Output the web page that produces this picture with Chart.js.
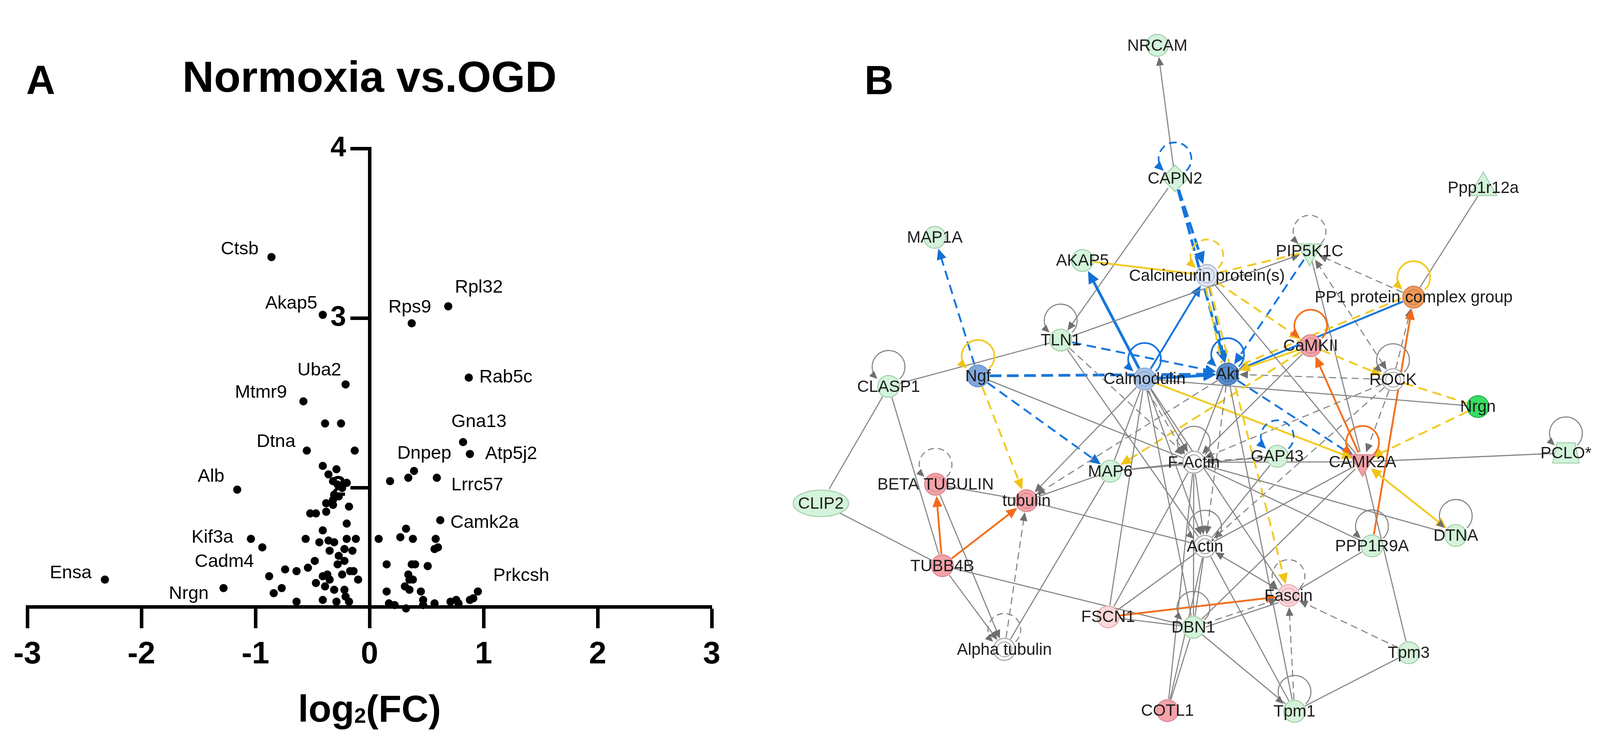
<!DOCTYPE html>
<html>
<head>
<meta charset="utf-8">
<script src="https://cdn.jsdelivr.net/npm/chart.js@4.4.1/dist/chart.umd.min.js"></script>
<style>
  html, body { margin: 0; padding: 0; background: #fff; }
  body { width: 4135px; height: 1935px; position: relative; overflow: hidden; }
  canvas { position: absolute; top: 0; }
  #volcano { left: 0; }
  #network { left: 1880px; }
</style>
</head>
<body>
<canvas id="volcano" width="1880" height="1935"></canvas>
<canvas id="network" width="2255" height="1935"></canvas>
<script>
// ---------- Panel A: volcano plot ----------
const xTicks = [-3, -2, -1, 0, 1, 2, 3];
const yTicks = [2, 3, 4];

const geneNames = ["Ctsb", "Akap5", "Rps9", "Rpl32", "Uba2", "Mtmr9", "Dtna", "Alb", "Kif3a", "Cadm4",
  "Ensa", "Nrgn", "Rab5c", "Gna13", "Atp5j2", "Dnpep", "Lrrc57", "Camk2a", "Prkcsh"];
const geneFC = [-0.86, -0.41, 0.37, 0.69, -0.21, -0.58, -0.55, -1.16, -1.04, -0.88,
  -2.32, -1.28, 0.87, 0.82, 0.88, 0.39, 0.59, 0.62, 0.95];
const geneLogP = [3.36, 3.02, 2.97, 3.07, 2.61, 2.51, 2.22, 1.99, 1.70, 1.48,
  1.46, 1.41, 2.65, 2.27, 2.20, 2.10, 2.06, 1.81, 1.39];

const fcOther = [
  -0.39, -0.25, -0.13, -0.41, -0.29, -0.36, -0.32, -0.28, -0.20, -0.24,
  -0.31, -0.27, -0.32, -0.38, -0.32, -0.18, -0.52, -0.47, -0.38, -0.20,
  -0.41, -0.56, -0.44, -0.36, -0.31, -0.20, -0.12, -0.35, -0.22, -0.15,
  -0.27, -0.22, -0.28, -0.48, -0.54, -0.64, -0.74, -0.94, -0.17, -0.14,
  -0.24, -0.37, -0.41, -0.35, -0.10,
  -0.77, -0.84, -0.64, -0.41, -0.29, -0.18, -0.47, -0.39, -0.31, -0.22, -0.21,
  0.18, 0.34, 0.32, 0.08, 0.27, 0.38, 0.58, 0.60, 0.57, 0.15,
  0.37, 0.40, 0.51, 0.34, 0.38, 0.35, 0.31, 0.35, 0.15, 0.45,
  0.17, 0.22, 0.32, 0.47, 0.47, 0.57, 0.71, 0.76, 0.78, 0.88, 0.91];
const logPOther = [
  2.38, 2.38, 2.22, 2.13, 2.11, 2.08, 2.04, 2.02, 2.03, 2.00,
  1.96, 1.95, 1.93, 1.91, 1.90, 1.89, 1.85, 1.85, 1.86, 1.79,
  1.75, 1.70, 1.68, 1.69, 1.68, 1.70, 1.70, 1.63, 1.64, 1.63,
  1.60, 1.57, 1.55, 1.57, 1.53, 1.51, 1.52, 1.65, 1.51, 1.51,
  1.49, 1.49, 1.48, 1.46, 1.46,
  1.41, 1.38, 1.33, 1.34, 1.33, 1.33, 1.44, 1.42, 1.40, 1.40, 1.36,
  2.04, 2.06, 1.76, 1.70, 1.71, 1.70, 1.70, 1.65, 1.64, 1.55,
  1.55, 1.55, 1.54, 1.49, 1.46, 1.46, 1.42, 1.40, 1.39, 1.39,
  1.32, 1.31, 1.29, 1.34, 1.31, 1.32, 1.33, 1.34, 1.32, 1.34, 1.35];

// where each gene name sits relative to its dot: [dx, dy, align]
const geneLabelPlace = {
  Ctsb: [-33, -20, "right"], Akap5: [-14, -29, "right"], Rps9: [-5, -40, "center"],
  Rpl32: [17, -48, "left"], Uba2: [-11, -36, "right"], Mtmr9: [-42, -22, "right"],
  Dtna: [-29, -22, "right"], Alb: [-33, -33, "right"], Kif3a: [-45, -3, "right"],
  Cadm4: [-39, -37, "right"], Ensa: [-34, -16, "right"], Nrgn: [-38, 15, "right"],
  Rab5c: [27, 0, "left"], Gna13: [-30, -52, "left"], Atp5j2: [39, 0, "left"],
  Dnpep: [-43, -44, "left"], Lrrc57: [37, 19, "left"], Camk2a: [26, 7, "left"],
  Prkcsh: [39, -40, "left"]
};

const FONT = "'Liberation Sans', Arial, sans-serif";

const volcanoText = {
  id: "volcanoText",
  afterDraw(chart) {
    const { ctx, scales: { x, y } } = chart;
    ctx.save();
    ctx.fillStyle = "#000";
    ctx.textBaseline = "alphabetic";
    ctx.textAlign = "left";
    ctx.font = "bold 103px " + FONT;
    ctx.fillText("A", 67, 240);
    ctx.textAlign = "center";
    ctx.font = "bold 112px " + FONT;
    ctx.fillText("Normoxia vs.OGD", x.getPixelForValue(0), 235);

    // axis title log2(FC) with a small subscript
    const big = "bold 96px " + FONT, small = "bold 54px " + FONT;
    ctx.font = big;
    const w1 = ctx.measureText("log").width, w3 = ctx.measureText("(FC)").width;
    ctx.font = small;
    const w2 = ctx.measureText("2").width;
    const sx = x.getPixelForValue(0) - (w1 + w2 + w3) / 2;
    ctx.textAlign = "left";
    ctx.font = big; ctx.fillText("log", sx, 1847);
    ctx.font = small; ctx.fillText("2", sx + w1, 1850);
    ctx.font = big; ctx.fillText("(FC)", sx + w1 + w2, 1847);

    ctx.font = "47px " + FONT;
    ctx.textBaseline = "middle";
    geneNames.forEach((name, i) => {
      const [dx, dy, align] = geneLabelPlace[name];
      ctx.textAlign = align;
      ctx.fillText(name, x.getPixelForValue(geneFC[i]) + dx, y.getPixelForValue(geneLogP[i]) + dy);
    });
    ctx.restore();
  }
};

const axisGrid = len => ({ drawOnChartArea: false, color: "#000", tickLength: len, tickWidth: 9 });

new Chart(document.getElementById("volcano"), {
  type: "scatter",
  data: {
    datasets: [
      {
        data: geneFC.map((v, i) => ({ x: v, y: geneLogP[i] })),
        backgroundColor: "#000", borderWidth: 0, pointRadius: 10.5, clip: false
      },
      {
        data: fcOther.map((v, i) => ({ x: v, y: logPOther[i] })),
        backgroundColor: "#000", borderWidth: 0, pointRadius: 10.5, clip: false
      }
    ]
  },
  options: {
    responsive: false,
    animation: false,
    devicePixelRatio: 1,
    layout: { padding: { left: 70, right: 58, top: 380, bottom: 382 } },
    plugins: { legend: { display: false }, tooltip: { enabled: false } },
    scales: {
      x: {
        type: "linear", min: -3, max: 3, position: { y: 1.3 },
        afterBuildTicks: s => { s.ticks = xTicks.map(v => ({ value: v })); },
        grid: axisGrid(50),
        border: { color: "#000", width: 9 },
        ticks: { color: "#000", padding: 25, font: { family: FONT, weight: "bold", size: 80 } }
      },
      y: {
        type: "linear", min: 1.3, max: 4, position: { x: 0 },
        afterBuildTicks: s => { s.ticks = yTicks.map(v => ({ value: v })); },
        grid: axisGrid(45),
        border: { color: "#000", width: 9 },
        ticks: { color: "#000", callback: v => v + "   ", font: { family: FONT, weight: "bold", size: 72 } }
      }
    }
  },
  plugins: [volcanoText]
});

// ---------- Panel B: interaction network ----------
const nodeKeys = ["NRCAM", "CAPN2", "PPP1R12A", "MAP1A", "AKAP5", "CALC", "PIP5K1C", "PP1", "TLN1", "CAMKII",
  "NGF", "CALM", "AKT", "ROCK", "CLASP1", "NRGN", "PCLO", "GAP43", "FACTIN", "CAMK2A",
  "MAP6", "BTUB", "TUB", "CLIP2", "DTNA", "ACTIN", "PPP1R9A", "TUBB4B", "FASCIN", "FSCN1",
  "DBN1", "ATUB", "TPM3", "COTL1", "TPM1"];
const nodeLabels = ["NRCAM", "CAPN2", "Ppp1r12a", "MAP1A", "AKAP5", "Calcineurin protein(s)", "PIP5K1C",
  "PP1 protein complex group", "TLN1", "CaMKII", "Ngf", "Calmodulin", "Akt", "ROCK", "CLASP1", "Nrgn",
  "PCLO*", "GAP43", "F-Actin", "CAMK2A", "MAP6", "BETA TUBULIN", "tubulin", "CLIP2", "DTNA", "Actin",
  "PPP1R9A", "TUBB4B", "Fascin", "FSCN1", "DBN1", "Alpha tubulin", "Tpm3", "COTL1", "Tpm1"];
const nodeX = [2961, 3008, 3828, 2369, 2762, 3093, 3366, 3643, 2704, 3369,
  2484, 2927, 3148, 3588, 2246, 3814, 4048, 3280, 3058, 3507,
  2836, 2371, 2613, 2066, 3755, 3088, 3532, 2389, 3310, 2830,
  3057, 2554, 3630, 2988, 3326];
const nodeY = [77, 433, 458, 591, 653, 693, 628, 751, 866, 881,
  962, 970, 957, 972, 990, 1044, 1168, 1177, 1193, 1192,
  1217, 1252, 1296, 1303, 1389, 1418, 1417, 1470, 1550, 1607,
  1635, 1694, 1703, 1858, 1860];
const nodeShape = ["circle", "diamond", "triangle", "circle", "circle", "circle", "invtriangle", "circle", "circle", "circle",
  "circle", "circle", "circle", "circle", "circle", "circle", "trapezoid", "circle", "circle", "invtriangle",
  "circle", "circle", "circle", "ellipse", "circle", "circle", "circle", "circle", "circle", "circle",
  "circle", "circle", "circle", "circle", "circle"];
const nodeState = ["down", "down", "down", "down", "down", "palePredicted", "down", "activated", "down", "up",
  "inhibited", "lightInhibited", "strongInhibited", "none", "down", "strongDown", "down", "down", "none", "up",
  "down", "up", "up", "down", "down", "none", "down", "up", "lightUp", "lightUp",
  "down", "none", "down", "up", "down"];
const groupNodes = ["CALC", "PP1", "CAMKII", "CALM", "AKT", "ROCK", "FACTIN", "BTUB", "TUB", "ACTIN", "FASCIN", "ATUB"];

// [from, to, prediction, relation, arrows]  relation: s = direct, d = indirect; arrows: 0 none, 1 end, 2 both
const edges = [
  ["CAPN2", "NRCAM", "g", "s", 1], ["CAPN2", "TLN1", "g", "s", 1], ["CAPN2", "CALC", "b", "d", 1],
  ["CAPN2", "AKT", "b", "d", 1], ["CALC", "AKT", "b", "d", 1], ["AKAP5", "CALC", "y", "s", 0],
  ["CALM", "AKAP5", "b", "s", 1], ["CALM", "CALC", "b", "s", 1], ["CALM", "AKT", "b", "s", 1],
  ["NGF", "AKT", "b", "d", 1], ["TLN1", "AKT", "b", "d", 1], ["NGF", "MAP1A", "b", "d", 1],
  ["NGF", "MAP6", "b", "d", 1], ["NGF", "TUB", "y", "d", 1], ["CLASP1", "TLN1", "g", "s", 0],
  ["NGF", "FACTIN", "g", "s", 0], ["TLN1", "PIP5K1C", "g", "s", 1], ["CALC", "PIP5K1C", "y", "d", 0],
  ["PIP5K1C", "AKT", "b", "d", 1], ["PP1", "PIP5K1C", "g", "d", 1], ["ROCK", "PIP5K1C", "g", "d", 2],
  ["PIP5K1C", "CAMK2A", "g", "s", 0], ["CALC", "CAMKII", "y", "d", 1], ["CALC", "AKT", "y", "d", 0],
  ["PP1", "PPP1R12A", "g", "s", 0], ["PP1", "AKT", "b", "s", 1], ["PP1", "AKT", "y", "d", 0],
  ["ROCK", "PP1", "g", "d", 1], ["PPP1R9A", "PP1", "o", "s", 1], ["CAMK2A", "CAMKII", "o", "s", 1],
  ["CAMKII", "ROCK", "y", "d", 1], ["ROCK", "NRGN", "y", "d", 0], ["CAMKII", "AKT", "y", "s", 1],
  ["CAMKII", "FACTIN", "g", "s", 1], ["ROCK", "AKT", "g", "d", 1], ["ROCK", "FACTIN", "g", "d", 1],
  ["ROCK", "ACTIN", "g", "d", 1], ["ROCK", "CAMK2A", "g", "d", 1], ["NRGN", "CAMK2A", "y", "d", 1],
  ["CALM", "NRGN", "g", "s", 0], ["CAMK2A", "PCLO", "g", "s", 0], ["CAMK2A", "DTNA", "y", "s", 2],
  ["AKT", "CAMK2A", "b", "d", 1], ["CALM", "CAMK2A", "y", "s", 1], ["FACTIN", "CAMK2A", "g", "s", 0],
  ["CAMK2A", "ACTIN", "g", "s", 0], ["CAMK2A", "DBN1", "g", "s", 0], ["CAMK2A", "TPM3", "g", "s", 0],
  ["CALC", "CAMK2A", "g", "s", 0], ["CALC", "FASCIN", "y", "d", 1], ["CAMKII", "MAP6", "y", "d", 1],
  ["CALM", "FACTIN", "g", "s", 1], ["CALM", "FACTIN", "g", "d", 1], ["CALM", "ACTIN", "g", "s", 1],
  ["CALM", "DBN1", "g", "s", 0], ["CALM", "FASCIN", "g", "s", 0], ["CALM", "TUB", "g", "s", 1],
  ["CALM", "MAP6", "g", "s", 0], ["CALM", "FSCN1", "g", "s", 0], ["AKT", "TUB", "g", "d", 1],
  ["AKT", "FACTIN", "g", "s", 0], ["AKT", "ACTIN", "g", "d", 1], ["AKT", "TPM1", "g", "s", 0],
  ["TUBB4B", "BTUB", "o", "s", 1], ["TUBB4B", "TUB", "o", "s", 1], ["BTUB", "TUB", "g", "s", 0],
  ["CLASP1", "TUBB4B", "g", "s", 0], ["CLASP1", "CLIP2", "g", "s", 0], ["CLIP2", "TUBB4B", "g", "s", 0],
  ["BTUB", "ATUB", "g", "s", 1], ["TUBB4B", "ATUB", "g", "s", 1], ["ATUB", "TUB", "g", "d", 1],
  ["ATUB", "MAP6", "g", "s", 0], ["TUBB4B", "DBN1", "g", "s", 0], ["TUB", "ACTIN", "g", "s", 0],
  ["MAP6", "TUB", "g", "s", 0], ["MAP6", "FACTIN", "g", "s", 0], ["MAP6", "GAP43", "g", "s", 0],
  ["FSCN1", "FASCIN", "o", "s", 1], ["FSCN1", "DBN1", "g", "s", 0], ["FSCN1", "FACTIN", "g", "s", 0],
  ["FSCN1", "ACTIN", "g", "s", 0], ["ACTIN", "FASCIN", "g", "s", 2], ["DBN1", "FASCIN", "g", "d", 1],
  ["DBN1", "FASCIN", "g", "s", 0], ["TPM1", "FASCIN", "g", "d", 1], ["TPM3", "FASCIN", "g", "d", 1],
  ["PPP1R9A", "FASCIN", "g", "s", 0], ["DBN1", "COTL1", "g", "s", 0], ["DBN1", "TPM1", "g", "s", 0],
  ["DBN1", "ACTIN", "g", "s", 0], ["DBN1", "FACTIN", "g", "s", 0], ["TPM1", "TPM3", "g", "s", 0],
  ["TPM1", "ACTIN", "g", "s", 0], ["COTL1", "FACTIN", "g", "s", 0], ["COTL1", "ACTIN", "g", "s", 0],
  ["FACTIN", "ACTIN", "g", "s", 1], ["FACTIN", "DTNA", "g", "s", 0], ["FACTIN", "PPP1R9A", "g", "s", 0],
  ["TLN1", "ACTIN", "g", "s", 0], ["TLN1", "FACTIN", "g", "d", 1], ["GAP43", "FACTIN", "g", "d", 1],
  ["GAP43", "ACTIN", "g", "s", 0]
];
// self regulation: [node, prediction, relation]
const selfLoops = [
  ["CAPN2", "b", "d"], ["CALC", "y", "d"], ["PIP5K1C", "g", "d"], ["PP1", "y", "s"], ["TLN1", "g", "s"],
  ["CAMKII", "o", "s"], ["NGF", "y", "s"], ["CALM", "b", "s"], ["AKT", "b", "s"], ["ROCK", "g", "s"],
  ["CLASP1", "g", "s"], ["PCLO", "g", "s"], ["GAP43", "b", "d"], ["FACTIN", "g", "s"], ["CAMK2A", "o", "s"],
  ["BTUB", "g", "d"], ["DTNA", "g", "s"], ["ACTIN", "g", "s"], ["PPP1R9A", "g", "s"], ["FASCIN", "g", "d"],
  ["DBN1", "g", "s"], ["ATUB", "g", "d"], ["TPM1", "g", "s"]
];
// links drawn heavier in the figure
const heavyLinks = ["AKT|NGF", "AKT|CALM", "CALC|CAPN2", "AKT|CAPN2", "AKAP5|CALM"];

const predColor = { g: "#858585", b: "#1677dc", y: "#f1cb24", o: "#f4711f" };
const headColor = { g: "#6f6f6f", b: "#1470d6", y: "#f0c414", o: "#f4691a" };
const stateFill = {
  down: ["#d3f3da", "#a2cdaa"], strongDown: ["#36df63", "#27ad4b"], up: ["#f5a2a9", "#d6868d"],
  lightUp: ["#fcd6d9", "#e0acb0"], activated: ["#f29a5c", "#cd7d46"], strongInhibited: ["#5a8dcf", "#3f70ad"],
  inhibited: ["#80a8dc", "#6790c4"], lightInhibited: ["#abc5ea", "#88a4cc"], palePredicted: ["#dfe7f5", "#a7b2c4"],
  none: ["#ffffff", "#a0a0a0"]
};

function shapeCanvas(w, h, draw) {
  const c = document.createElement("canvas");
  c.width = w; c.height = h;
  draw(c.getContext("2d"));
  return c;
}
const greenFill = stateFill.down;
const ellipseImg = shapeCanvas(150, 74, g => {
  g.beginPath(); g.ellipse(75, 37, 71, 34, 0, 0, 2 * Math.PI);
  g.fillStyle = greenFill[0]; g.fill(); g.lineWidth = 2.5; g.strokeStyle = greenFill[1]; g.stroke();
});
const trapezoidImg = shapeCanvas(74, 58, g => {
  g.beginPath(); g.moveTo(14, 3); g.lineTo(60, 3); g.lineTo(71, 55); g.lineTo(3, 55); g.closePath();
  g.fillStyle = greenFill[0]; g.fill(); g.lineWidth = 2.5; g.strokeStyle = greenFill[1]; g.stroke();
});

const styleFor = s => ({
  circle: "circle", diamond: "rectRot", triangle: "triangle", invtriangle: "triangle",
  ellipse: ellipseImg, trapezoid: trapezoidImg
})[s];
const radiusFor = s => ({ circle: 28, diamond: 34, triangle: 40, invtriangle: 37, ellipse: 30, trapezoid: 30 })[s];
const trimFor = s => ({ circle: 30, diamond: 30, triangle: 26, invtriangle: 26, ellipse: 42, trapezoid: 30 })[s];

const nodeIndex = {};
nodeKeys.forEach((k, i) => { nodeIndex[k] = i; });

function arrowHead(ctx, tx, ty, ux, uy, len, half, color) {
  ctx.beginPath();
  ctx.moveTo(tx, ty);
  ctx.lineTo(tx - ux * len - uy * half, ty - uy * len + ux * half);
  ctx.lineTo(tx - ux * len + uy * half, ty - uy * len - ux * half);
  ctx.closePath();
  ctx.fillStyle = color;
  ctx.fill();
}

const networkEdges = {
  id: "networkEdges",
  beforeDatasetsDraw(chart) {
    const { ctx, scales: { x, y } } = chart;
    const px = i => x.getPixelForValue(nodeX[i]);
    const py = i => y.getPixelForValue(nodeY[i]);
    ctx.save();
    ctx.lineCap = "butt";
    const seen = {};
    edges.forEach(([from, to, pred, rel, arrows]) => {
      const i = nodeIndex[from], j = nodeIndex[to];
      const pairKey = [from, to].sort().join("|");
      const n = seen[pairKey] = (seen[pairKey] || 0) + 1;
      const off = n === 1 ? 0 : (n % 2 ? -9 : 9);
      let ax = px(i), ay = py(i), bx = px(j), by = py(j);
      const len = Math.hypot(bx - ax, by - ay);
      const ux = (bx - ax) / len, uy = (by - ay) / len;
      ax -= uy * off; ay += ux * off; bx -= uy * off; by += ux * off;
      const sx = ax + ux * trimFor(nodeShape[i]), sy = ay + uy * trimFor(nodeShape[i]);
      const ex = bx - ux * trimFor(nodeShape[j]), ey = by - uy * trimFor(nodeShape[j]);
      const gray = pred === "g";
      const heavy = n === 1 && heavyLinks.includes(pairKey);
      const ah = gray ? 22 : (heavy ? 32 : 28), hw = ah * 0.45;
      let lx0 = sx, ly0 = sy, lx1 = ex, ly1 = ey;
      if (arrows >= 1) { lx1 -= ux * ah * 0.8; ly1 -= uy * ah * 0.8; }
      if (arrows === 2) { lx0 += ux * ah * 0.8; ly0 += uy * ah * 0.8; }
      ctx.strokeStyle = predColor[pred];
      ctx.lineWidth = gray ? 2.8 : (heavy ? 7 : 4.8);
      ctx.setLineDash(rel === "d" ? (gray ? [18, 11] : (heavy ? [30, 14] : [24, 14])) : []);
      ctx.beginPath(); ctx.moveTo(lx0, ly0); ctx.lineTo(lx1, ly1); ctx.stroke();
      ctx.setLineDash([]);
      if (arrows >= 1) arrowHead(ctx, ex, ey, ux, uy, ah, hw, headColor[pred]);
      if (arrows === 2) arrowHead(ctx, sx, sy, -ux, -uy, ah, hw, headColor[pred]);
    });

    const R = 42, spread = 0.75;
    selfLoops.forEach(([key, pred, rel]) => {
      const i = nodeIndex[key];
      const cx = px(i), cy = py(i) - 50;
      const gray = pred === "g";
      ctx.strokeStyle = predColor[pred];
      ctx.lineWidth = gray ? 2.8 : 4.4;
      ctx.setLineDash(rel === "d" ? (gray ? [16, 10] : [20, 12]) : []);
      const a1 = Math.PI / 2 - spread, a2 = Math.PI / 2 + spread;
      ctx.beginPath(); ctx.arc(cx, cy, R, a1, a2 + 0.28, true); ctx.stroke();
      ctx.setLineDash([]);
      const tx = cx + R * Math.cos(a2), ty = cy + R * Math.sin(a2);
      arrowHead(ctx, tx, ty, Math.sin(a2), -Math.cos(a2), gray ? 20 : 24, gray ? 9 : 11, headColor[pred]);
    });
    ctx.restore();
  }
};

const networkLabels = {
  id: "networkLabels",
  afterDatasetsDraw(chart) {
    const { ctx, scales: { x, y } } = chart;
    ctx.save();
    groupNodes.forEach(key => {
      const i = nodeIndex[key];
      ctx.beginPath();
      ctx.arc(x.getPixelForValue(nodeX[i]), y.getPixelForValue(nodeY[i]), 19, 0, 2 * Math.PI);
      ctx.lineWidth = 2.2;
      ctx.strokeStyle = stateFill[nodeState[i]][1];
      ctx.stroke();
    });
    ctx.fillStyle = "#1c1c1c";
    ctx.font = "42px " + FONT;
    ctx.textAlign = "center";
    ctx.textBaseline = "middle";
    nodeLabels.forEach((label, i) => {
      ctx.fillText(label, x.getPixelForValue(nodeX[i]), y.getPixelForValue(nodeY[i]) + 2);
    });
    ctx.fillStyle = "#000";
    ctx.font = "bold 103px " + FONT;
    ctx.textAlign = "left";
    ctx.textBaseline = "alphabetic";
    ctx.fillText("B", 333, 241);
    ctx.restore();
  }
};

new Chart(document.getElementById("network"), {
  type: "scatter",
  data: {
    datasets: [{
      data: nodeX.map((v, i) => ({ x: v, y: nodeY[i] })),
      pointStyle: nodeShape.map(styleFor),
      pointRadius: nodeShape.map(radiusFor),
      rotation: nodeShape.map(s => (s === "invtriangle" ? 180 : 0)),
      backgroundColor: nodeState.map(s => stateFill[s][0]),
      borderColor: nodeState.map(s => stateFill[s][1]),
      borderWidth: 2.5,
      clip: false
    }]
  },
  options: {
    responsive: false,
    animation: false,
    devicePixelRatio: 1,
    layout: { padding: 0 },
    plugins: { legend: { display: false }, tooltip: { enabled: false } },
    scales: {
      x: { type: "linear", min: 1880, max: 4135, display: false },
      y: { type: "linear", min: 0, max: 1935, reverse: true, display: false }
    }
  },
  plugins: [networkEdges, networkLabels]
});
</script>
</body>
</html>
